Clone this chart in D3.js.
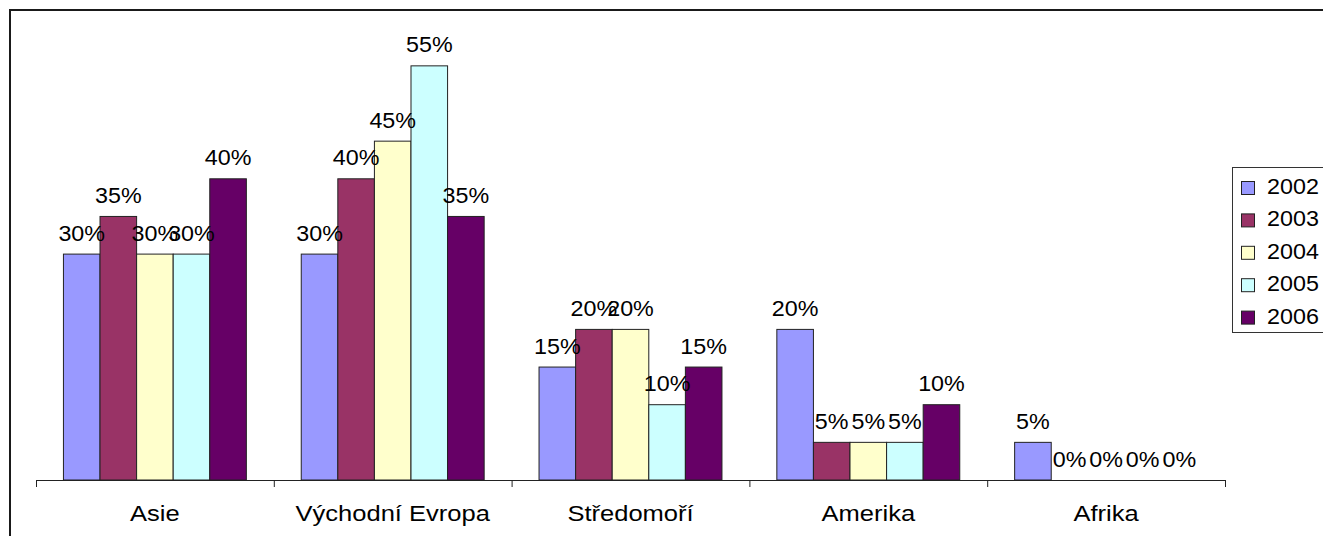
<!DOCTYPE html>
<html><head><meta charset="utf-8">
<script src="https://cdn.jsdelivr.net/npm/d3@7/dist/d3.min.js"></script>
<style>body{margin:0;background:#fff;}svg{display:block;}</style>
</head><body>
<svg id="c" width="1323" height="536"></svg>
<script>
const categories = ["Asie", "Východní Evropa", "Středomoří", "Amerika", "Afrika"];
const years = ["2002", "2003", "2004", "2005", "2006"];
const v2002 = [30, 30, 15, 20, 5];
const v2003 = [35, 40, 20, 5, 0];
const v2004 = [30, 45, 20, 5, 0];
const v2005 = [30, 55, 10, 5, 0];
const v2006 = [40, 35, 15, 10, 0];
const seriesValues = [v2002, v2003, v2004, v2005, v2006];
const colors = ["#9999FF", "#993366", "#FFFFCC", "#CCFFFF", "#660066"];

const svg = d3.select("#c");
const font = "'Liberation Sans', Arial, sans-serif";

// outer chart frame
svg.append("rect").attr("x", 10).attr("y", 10).attr("width", 1500).attr("height", 700)
  .attr("fill", "none").attr("stroke", "#1a1a1a").attr("stroke-width", 2);

const x0 = d3.scaleBand().domain(categories).range([36, 1225]).padding(0);
const bw = x0.bandwidth() / 6.5;
const x1 = d3.scaleBand().domain(years).range([bw * 0.75, x0.bandwidth() - bw * 0.75]).padding(0);
const y = d3.scaleLinear().domain([0, 60]).range([480, 480 - 12 * 37.65]);

function stretchText(sel, tx, ty, sx) {
  return sel.attr("transform", `translate(${tx},${ty}) scale(${sx},1)`);
}

const g = svg.append("g");
categories.forEach((cat, ci) => {
  const cg = g.append("g").attr("transform", `translate(${x0(cat)},0)`);
  years.forEach((yr, si) => {
    const v = seriesValues[si][ci];
    if (v > 0) {
      cg.append("rect")
        .attr("x", x1(yr)).attr("y", y(v))
        .attr("width", x1.bandwidth()).attr("height", y(0) - y(v))
        .attr("fill", colors[si]).attr("stroke", "#222").attr("stroke-width", 1);
    }
  });
  years.forEach((yr, si) => {
    const v = seriesValues[si][ci];
    const t = cg.append("text")
      .attr("text-anchor", "middle").attr("font-family", font).attr("font-size", 22)
      .attr("fill", "#000").text(v + "%");
    stretchText(t, x1(yr) + x1.bandwidth() / 2, y(v) - 13.5, 1.06);
  });
});

// x axis
const axis = d3.axisBottom(x0).tickSize(0).tickPadding(0).tickFormat("");
const ag = svg.append("g").attr("transform", "translate(0,480)").call(axis);
ag.select(".domain").attr("stroke", "#222").attr("stroke-width", 1).attr("d", "M36,0.5H1225");
const bounds = categories.map(c => x0(c)).concat([x0.range()[1]]);
ag.selectAll(".bt").data(bounds).enter().append("line").attr("class", "bt")
  .attr("x1", d => d + 0.5).attr("x2", d => d + 0.5).attr("y1", 0).attr("y2", 7)
  .attr("stroke", "#222").attr("stroke-width", 1);
ag.selectAll(".cl").data(categories).enter().append("text").attr("class", "cl")
  .attr("text-anchor", "middle").attr("font-family", font).attr("font-size", 22)
  .attr("fill", "#000").text(d => d)
  .attr("transform", d => `translate(${x0(d) + x0.bandwidth() / 2},41) scale(1.16,1)`);

// legend
const lg = svg.append("g");
lg.append("rect").attr("x", 1232.5).attr("y", 167.5).attr("width", 200).attr("height", 165)
  .attr("fill", "#fff").attr("stroke", "#333").attr("stroke-width", 1);
years.forEach((yr, i) => {
  const ty = 181 + i * 32.4;
  lg.append("rect").attr("x", 1241.5).attr("y", ty + 0.5).attr("width", 13).attr("height", 13)
    .attr("fill", colors[i]).attr("stroke", "#222").attr("stroke-width", 1);
  const t = lg.append("text").attr("font-family", font)
    .attr("font-size", 22).attr("fill", "#000").text(yr);
  stretchText(t, 1267, ty + 13, 1.06);
});
</script>
</body></html>
